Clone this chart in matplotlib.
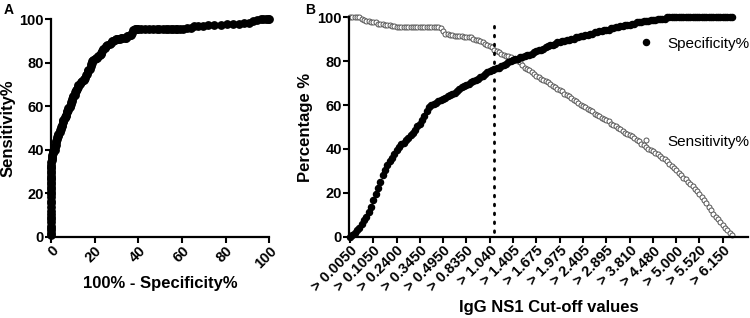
import numpy as np
import matplotlib
matplotlib.use("Agg")
import matplotlib.pyplot as plt

plt.rcParams['font.family'] = ['Liberation Sans', 'DejaVu Sans']
plt.rcParams['font.weight'] = 'bold'

# cut-off labels shown every 10th threshold
cutoff_labels = ["0.0050", "0.1050", "0.2400", "0.3450", "0.4950", "0.8350", "1.040",
                 "1.405", "1.675", "1.975", "2.405", "2.895", "3.810", "4.480",
                 "5.000", "5.520", "6.150"]

specificity = [
    0, 0.6, 1.7, 2.9, 4.0, 5.7, 7.4, 9.1, 11.4, 13.7,
    16.6, 19.4, 22.3, 25.1, 28.0, 30.3, 32.6, 34.3, 36.0, 37.7,
    39.4, 41.1, 42.3, 42.9, 44.0, 45.1, 46.3, 47.4, 48.6, 50.3,
    51.4, 53.1, 54.9, 57.1, 58.9, 60.0, 60.6, 61.1, 61.7, 62.3,
    62.9, 63.4, 64.0, 64.6, 65.1, 65.7, 66.3, 67.4, 68.0, 68.6,
    69.1, 69.7, 70.3, 70.9, 71.4, 72.0, 72.6, 73.1, 74.3, 74.9,
    75.4, 76.0, 76.6, 77.1, 77.1, 77.7, 78.3, 78.9, 79.4, 80.0,
    80.6, 81.1, 81.1, 81.7, 81.7, 82.3, 82.9, 82.9, 83.4, 84.0,
    84.6, 85.1, 85.1, 85.7, 86.3, 86.9, 87.4, 87.4, 88.0, 88.6,
    88.6, 89.1, 89.1, 89.7, 89.7, 90.3, 90.3, 90.9, 90.9, 91.4,
    91.4, 92.0, 92.0, 92.6, 92.6, 93.1, 93.1, 93.7, 93.7, 94.3,
    94.3, 94.3, 94.9, 94.9, 95.4, 95.4, 96.0, 96.0, 96.6, 96.6,
    96.6, 97.1, 97.1, 97.7, 97.7, 97.7, 98.3, 98.3, 98.3, 98.9,
    98.9, 98.9, 99.4, 99.4, 99.4, 99.4, 100, 100, 100, 100,
    100, 100, 100, 100, 100, 100, 100, 100, 100, 100,
    100, 100, 100, 100, 100, 100, 100, 100, 100, 100,
    100, 100, 100, 100, 100,
]

sensitivity = [
    100, 100, 100, 100, 100, 99.4, 98.9, 98.3, 98.3, 97.7,
    97.7, 97.7, 97.1, 97.1, 97.1, 96.6, 96.6, 96.6, 96.0, 96.0,
    95.4, 95.4, 95.4, 95.4, 95.4, 95.4, 95.4, 95.4, 95.4, 95.4,
    95.4, 95.4, 95.4, 95.4, 95.4, 95.4, 95.4, 95.4, 95.4, 94.9,
    93.7, 92.6, 92.6, 92.0, 92.0, 91.4, 91.4, 91.4, 91.4, 90.9,
    90.9, 90.9, 90.9, 90.3, 89.7, 89.7, 89.1, 88.6, 88.0, 87.4,
    86.9, 86.3, 85.1, 84.6, 84.0, 83.4, 82.9, 82.3, 82.3, 81.7,
    81.1, 80.6, 80.0, 79.4, 78.3, 77.1, 76.6, 76.0, 74.9, 74.3,
    73.1, 72.6, 72.0, 71.4, 70.9, 70.3, 69.7, 68.6, 68.0, 67.4,
    66.9, 66.3, 65.1, 64.6, 64.0, 63.4, 62.3, 61.7, 61.1, 60.0,
    59.4, 58.9, 58.3, 57.7, 57.1, 56.0, 55.4, 54.9, 54.3, 53.7,
    53.1, 52.6, 51.4, 50.9, 50.3, 49.7, 49.1, 48.0, 47.4, 46.9,
    46.3, 45.7, 45.1, 44.0, 43.4, 42.3, 41.7, 41.1, 40.0, 39.4,
    38.9, 38.3, 37.7, 36.6, 36.0, 35.4, 34.3, 33.1, 32.0, 31.4,
    30.3, 29.1, 28.0, 26.9, 26.3, 25.1, 24.0, 22.9, 21.7, 20.6,
    19.4, 18.3, 16.6, 15.4, 13.7, 12.0, 10.3, 9.1, 8.0, 6.9,
    5.1, 4.0, 2.9, 1.7, 0.6,
]

best_cutoff_index = 62
tick_step = 10

spec = np.array(specificity)
sens = np.array(sensitivity)
idx = np.arange(len(spec))

fig = plt.figure(figsize=(7.5, 3.18), dpi=100)
axA = fig.add_axes([0.068, 0.2557, 0.291, 0.6845])
axB = fig.add_axes([0.4653, 0.2557, 0.532, 0.690])

for ax in (axA, axB):
    for s in ("top", "right"):
        ax.spines[s].set_visible(False)
    for s in ("left", "bottom"):
        ax.spines[s].set_linewidth(1.6)
    ax.tick_params(width=1.5, length=4, labelsize=10.5, pad=1)

# panel A: ROC curve
axA.plot(100 - spec, sens, color="black", lw=1.5, marker="o", ms=5.3,
         mfc="black", mec="black", clip_on=False, zorder=3)
axA.set_xlim(0, 100)
axA.set_ylim(0, 100)
axA.set_xticks(np.arange(0, 101, 20))
axA.set_yticks(np.arange(0, 101, 20))
axA.set_xticklabels([str(v) for v in range(0, 101, 20)], rotation=45,
                    ha="right", rotation_mode="anchor", fontweight="bold")
axA.set_yticklabels([str(v) for v in range(0, 101, 20)], fontweight="bold")
axA.set_xlabel("100% - Specificity%", fontsize=12, fontweight="bold", labelpad=4)
axA.set_ylabel("Sensitivity%", fontsize=12, fontweight="bold", labelpad=3)

# panel B: specificity / sensitivity vs cut-off
axB.plot(idx, spec, "o", ms=4.4, mfc="black", mec="black", clip_on=False,
         zorder=3, label="Specificity%")
axB.plot(idx, sens, "o", ms=3.6, mfc="white", mec="#555555", mew=0.7,
         clip_on=False, zorder=2, label="Sensitivity%")
axB.plot([best_cutoff_index, best_cutoff_index], [2, 98], color="black",
         lw=2, linestyle=(0, (0.6, 2.6)), dash_capstyle="round")
axB.set_xlim(-0.4, 170.8)
axB.set_ylim(0, 100)
ticks = np.arange(0, len(cutoff_labels) * tick_step, tick_step)
axB.set_xticks(ticks)
axB.set_xticklabels(["> " + c for c in cutoff_labels], rotation=45,
                    ha="right", rotation_mode="anchor", fontweight="bold",
                    fontsize=10.5)
axB.set_yticks(np.arange(0, 101, 20))
axB.set_yticklabels([str(v) for v in range(0, 101, 20)], fontweight="bold")
axB.set_xlabel("IgG NS1 Cut-off values", fontsize=12, fontweight="bold", labelpad=4)
axB.set_ylabel("Percentage %", fontsize=12, fontweight="bold", labelpad=3)

leg = axB.legend(loc="upper left", bbox_to_anchor=(0.69, 0.975), frameon=False,
                 labelspacing=5.5, handletextpad=0.9, handlelength=1.0,
                 prop={"weight": "normal", "size": 11})

fig.text(0.005, 0.99, "A", fontsize=10, fontweight="bold", va="top")
fig.text(0.407, 0.99, "B", fontsize=10, fontweight="bold", va="top")

fig.savefig("out.png", dpi=100)
